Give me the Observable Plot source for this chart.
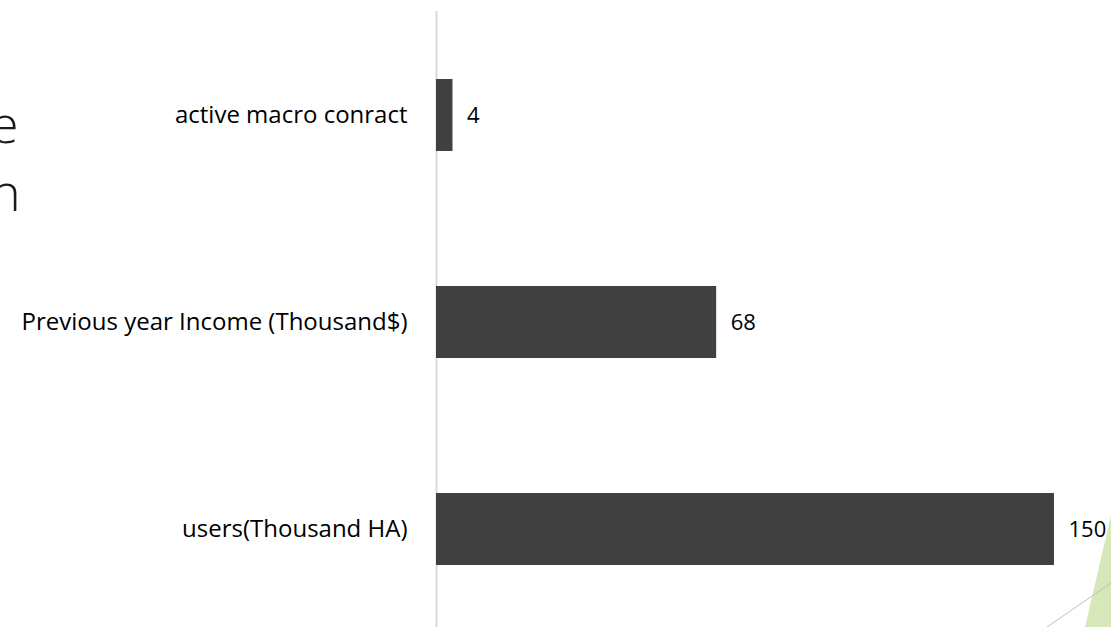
<!DOCTYPE html>
<html>
<head>
<meta charset="utf-8">
<script src="https://cdn.jsdelivr.net/npm/d3@7"></script>
<script src="https://cdn.jsdelivr.net/npm/@observablehq/plot@0.6"></script>
<style>
  html, body { margin: 0; padding: 0; background: #fff; overflow: hidden; }
  #wrap { position: relative; width: 1111px; height: 627px; overflow: hidden; }
  #chart { position: absolute; left: 0; top: 0; }
  #title { position: absolute; left: -10px; top: 89px; font-family: "Open Sans", sans-serif; font-weight: 300; font-size: 52px; line-height: 68px; color: #1a1a1a; }
  #deco { position: absolute; left: 0; top: 0; pointer-events: none; }
</style>
</head>
<body>
<div id="wrap">
  <svg id="deco" width="1111" height="627">
    <polygon points="1085,627 1111,515 1111,627" fill="#d7e8b8"/>
    <line x1="1047" y1="627" x2="1111" y2="583" stroke="#bfbfbf" stroke-width="1"/>
  </svg>
  <div id="title">e<br>n</div>
  <div id="chart"></div>
</div>
<script>
const categories = ["active macro conract", "Previous year Income (Thousand$)", "users(Thousand HA)"];
const values = [4, 68, 150];

const data = categories.map((c, i) => ({category: c, value: values[i]}));

const chart = Plot.plot({
  width: 1111,
  height: 627,
  marginLeft: 435,
  marginRight: 57,
  marginTop: 11,
  marginBottom: 0,
  style: {background: "transparent", fontFamily: "'Open Sans', sans-serif"},
  x: {domain: [0, 150], range: [436, 1054], axis: null},
  y: {domain: categories, range: [11, 633], paddingInner: 0.65, paddingOuter: 0.325, axis: null},
  marks: [
    Plot.ruleX([0], {stroke: "#d9d9d9", strokeWidth: 2}),
    Plot.barX(data, {y: "category", x: "value", fill: "#404040"}),
    Plot.text(data, {y: "category", x: "value", text: d => String(d.value), dx: 14, textAnchor: "start", fill: "#000", fontSize: 22}),
    Plot.axisY({tickSize: 0, tickPadding: 28, fontSize: 24, label: null, color: "#000"})
  ]
});
document.getElementById("chart").appendChild(chart);
</script>
</body>
</html>
